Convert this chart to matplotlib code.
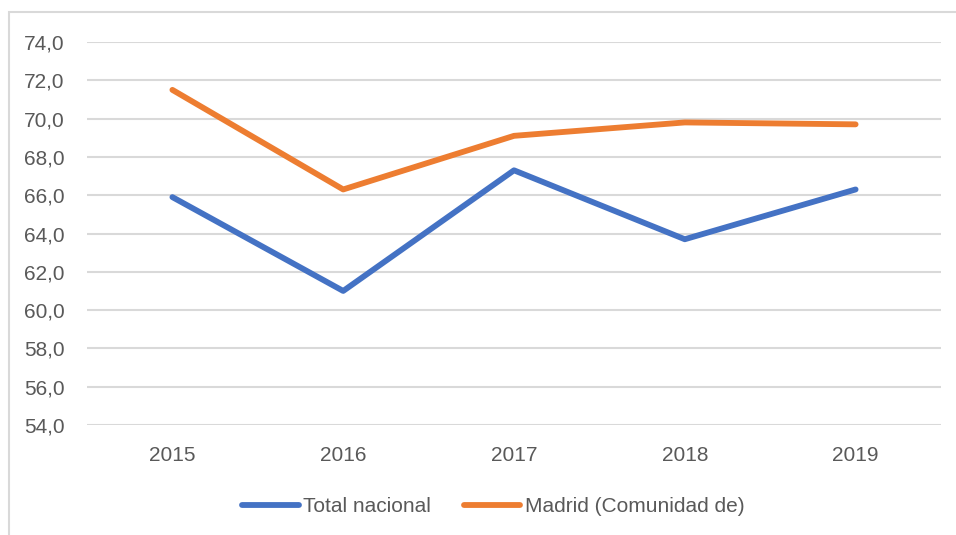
import matplotlib.pyplot as plt
from matplotlib.patches import Rectangle
from matplotlib.ticker import FuncFormatter

years = ["2015", "2016", "2017", "2018", "2019"]
total_nacional = [65.9, 61.0, 67.3, 63.7, 66.3]
madrid = [71.5, 66.3, 69.1, 69.8, 69.7]
y_ticks = [54, 56, 58, 60, 62, 64, 66, 68, 70, 72, 74]

plt.rcParams["font.family"] = ["Liberation Sans Narrow", "Liberation Sans", "DejaVu Sans"]
text_color = "#595959"
fs = 15

fig = plt.figure(figsize=(9.56, 5.35), dpi=100)
ax = fig.add_axes([87 / 956, 1 - 425 / 535, (941 - 87) / 956, (425 - 42) / 535])

x = range(len(years))
ax.plot(x, total_nacional, color="#4472C4", lw=4.2, solid_capstyle="round",
        solid_joinstyle="round", label="Total nacional")
ax.plot(x, madrid, color="#ED7D31", lw=4.2, solid_capstyle="round",
        solid_joinstyle="round", label="Madrid (Comunidad de)")

ax.set_xlim(-0.5, 4.5)
ax.set_ylim(54, 74)
ax.set_yticks(y_ticks)
ax.yaxis.set_major_formatter(FuncFormatter(lambda v, p: f"{v:.1f}".replace(".", ",")))
ax.set_xticks(list(x))
ax.set_xticklabels(years)
ax.grid(axis="y", color="#D9D9D9", lw=1.5)
ax.set_axisbelow(True)
for s in ax.spines.values():
    s.set_visible(False)
ax.tick_params(length=0, labelsize=fs, colors=text_color)
ax.tick_params(axis="y", pad=16)
ax.tick_params(axis="x", pad=15)

leg = fig.legend(loc="center", bbox_to_anchor=(0.516, 1 - 507 / 535), ncol=2,
                 frameon=False, fontsize=fs, handlelength=2.7, handletextpad=0.2,
                 columnspacing=1.6)
for t in leg.get_texts():
    t.set_color(text_color)

# outer chart border (partially outside the image)
fig.patches.append(Rectangle((9 / 956, -0.1), 1.2, 1 - 12 / 535 + 0.1,
                             transform=fig.transFigure, fill=False,
                             edgecolor="#D9D9D9", lw=1.5))

fig.savefig("out.png", dpi=100)
